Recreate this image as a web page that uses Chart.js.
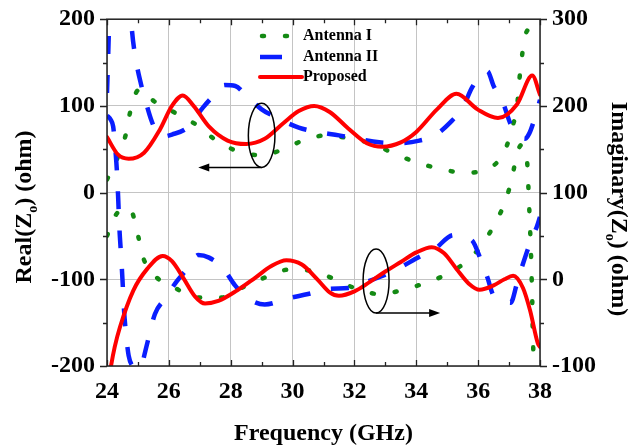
<!DOCTYPE html>
<html lang="en">
<head>
<meta charset="UTF-8">
<title>Real / Imaginary Z0 vs Frequency</title>
<script src="https://cdn.jsdelivr.net/npm/chart.js"></script>
<style>
  html, body { margin: 0; padding: 0; background: #fff; }
  #wrap { width: 632px; height: 447px; }
</style>
</head>
<body>
<div id="wrap"><canvas id="zChart" width="632" height="447"></canvas></div>
<script>
// axis ticks
const xTicks = [24, 26, 28, 30, 32, 34, 36, 38];
const realTicks = [-200, -100, 0, 100, 200];
const imagTicks = [-100, 0, 100, 200, 300];

// Antenna I (green dotted)
const ant1RealFreq = [24, 24.35, 24.6, 24.75, 25.0, 25.15, 25.5, 25.9, 26.3, 26.9, 27.5, 28.2, 29.0, 29.7, 30.4, 31.1, 31.9, 32.6, 33.4, 34.1, 34.8, 35.6, 36.3, 36.87, 37.1, 37.26, 37.33, 37.42, 37.5, 37.68, 38];
const ant1RealVal  = [15, 41, 66, 93, 118, 119, 106, 98, 90, 78, 61, 48, 43, 50, 61, 66, 62, 56, 43, 34, 27, 23, 27, 49, 75, 100, 129, 158, 178, 189, 178];
const ant1ImagFreq = [24, 24.3, 24.6, 24.8, 25.0, 25.17, 25.55, 26.2, 26.9, 27.7, 28.4, 29.1, 29.85, 30.6, 31.3, 32.0, 32.8, 33.6, 34.3, 35.0, 35.6, 36.15, 36.55, 36.9, 37.1, 37.26, 37.4, 37.52, 37.58, 37.62, 37.65, 37.68, 37.71, 37.73, 37.75, 37.76, 37.78, 37.82];
const ant1ImagVal  = [50, 75, 82, 78, 51, 25, 4, -10, -21, -21, -9, 2, 11, 10, 1, -10, -17, -12, -4, 6, 20, 41, 65, 92, 118, 145, 155, 148, 138, 110, 84, 58, 29, 2, -25, -51, -78, -115];

// Antenna II (blue dashed)
const ant2RealFreq = [24, 24.04, 24.08, 24.12, 24.4, 24.68, 24.8, 24.95, 25.1, 25.26, 25.42, 25.6, 25.85, 26.1, 26.6, 27.1, 27.45, 27.8, 28.15, 28.5, 29.0, 29.4, 30.2, 30.8, 31.5, 32.1, 32.8, 33.4, 34.1, 34.6, 35.1, 35.5, 35.8, 36.1, 36.3, 36.5, 36.8, 37.05, 37.3, 37.5, 37.65, 37.84, 38];
const ant2RealVal  = [115, 160, 210, 260, 420, 260, 190, 150, 125, 104, 85, 70, 65, 67, 75, 98, 112, 124, 123, 112, 96, 88, 75, 70, 66, 62, 58, 57, 60, 66, 81, 98, 121, 136, 140, 123, 104, 79, 68, 62, 68, 87, 107];
const ant2ImagFreq = [24, 24.12, 24.2, 24.27, 24.32, 24.36, 24.4, 24.46, 24.5, 24.55, 24.62, 24.7, 24.82, 24.97, 25.13, 25.3, 25.55, 25.88, 26.26, 26.62, 26.95, 27.3, 27.75, 28.14, 28.56, 29.1, 29.85, 30.5, 31.2, 31.8, 32.3, 33.05, 33.5, 34.1, 34.6, 35.2, 35.8, 36.1, 36.3, 36.5, 36.9, 37.05, 37.26, 37.45, 37.68, 37.9, 38];
const ant2ImagVal  = [189, 184, 176, 150, 125, 95, 60, 25, 0, -35, -65, -88, -100, -103, -97, -74, -40, -22, -2, 13, 28, 25, 13, -7, -22, -29, -22, -17, -11, -10, -4, 6, 14, 26, 35, 51, 45, 21, 2, -19, -26, -27, -4, 18, 42, 61, 72];

// Proposed (red solid)
const propRealFreq = [24, 24.35, 24.7, 25.2, 25.7, 26.1, 26.45, 26.8, 27.3, 27.9, 28.5, 29.1, 29.7, 30.2, 30.7, 31.2, 31.8, 32.4, 32.9, 33.5, 34.0, 34.67, 35.3, 35.98, 36.64, 37.26, 37.75, 38];
const propRealVal  = [64, 44, 39, 46, 72, 100, 112, 100, 76, 60, 56, 62, 80, 94, 100, 93, 74, 57, 53, 58, 70, 96, 114, 96, 86, 102, 135, 113];
const propImagFreq = [24, 24.13, 24.25, 24.42, 24.85, 25.3, 25.8, 26.1, 26.46, 26.85, 27.17, 27.6, 28.2, 28.8, 29.3, 29.8, 30.3, 30.8, 31.2, 31.5, 32.0, 32.5, 33.0, 33.5, 34.0, 34.5, 34.9, 35.3, 35.7, 36.05, 36.5, 36.85, 37.13, 37.45, 37.68, 37.93, 38];
const propImagVal  = [-130, -100, -78, -55, -13, 12, 27, 21, 2, -20, -28, -25, -13, 2, 15, 22, 17, 0, -15, -19, -14, -3, 9, 20, 31, 37, 30, 12, -5, -12, -7, 0, 4, -10, -36, -74, -78];

// ellipse + arrow markers (data units)
const markers = [
    { axis: 'y',  x: 29.0, y: 66, rx: 0.43, ry: 37, toX: 26.95 },
    { axis: 'y1', x: 32.7, y: -2, rx: 0.42, ry: 37, toX: 34.77 }
];

const serif = '"Liberation Serif", "Times New Roman", serif';
const GREEN = '#148a14', BLUE = '#0a1eff', RED = '#ff0000';

function pts(fs, vs) { return fs.map((f, i) => ({ x: f, y: vs[i] })); }

const styles = {
    ant1: { borderColor: GREEN, borderWidth: 4.5, borderDash: [2, 21], borderCapStyle: 'round' },
    ant2: { borderColor: BLUE, borderWidth: 4.5, borderDash: [18, 21], borderCapStyle: 'butt' },
    prop: { borderColor: RED, borderWidth: 4, borderDash: [], borderCapStyle: 'round' }
};

const datasets = [
    { label: 'Proposed', data: pts(propRealFreq, propRealVal), yAxisID: 'y', ...styles.prop },
    { label: 'Proposed Im', data: pts(propImagFreq, propImagVal), yAxisID: 'y1', ...styles.prop },
    { label: 'Antenna II', data: pts(ant2RealFreq, ant2RealVal), yAxisID: 'y', ...styles.ant2 },
    { label: 'Antenna II Im', data: pts(ant2ImagFreq, ant2ImagVal), yAxisID: 'y1', ...styles.ant2 },
    { label: 'Antenna I', data: pts(ant1RealFreq, ant1RealVal), yAxisID: 'y', ...styles.ant1 },
    { label: 'Antenna I Im', data: pts(ant1ImagFreq, ant1ImagVal), yAxisID: 'y1', ...styles.ant1 }
].map(d => Object.assign(d, { pointRadius: 0, fill: false, clip: 0, cubicInterpolationMode: 'monotone' }));

function drawRich(ctx, parts, cx, cy, angle, size) {
    ctx.save();
    ctx.translate(cx, cy);
    ctx.rotate(angle);
    const big = `bold ${size}px ${serif}`;
    const small = `bold ${Math.round(size * 0.6)}px ${serif}`;
    let total = 0;
    parts.forEach(p => { ctx.font = p.sub ? small : big; total += ctx.measureText(p.t).width; });
    let x = -total / 2;
    ctx.fillStyle = '#000';
    ctx.textAlign = 'left';
    ctx.textBaseline = 'alphabetic';
    parts.forEach(p => {
        ctx.font = p.sub ? small : big;
        ctx.fillText(p.t, x, p.sub ? size * 0.25 : 0);
        x += ctx.measureText(p.t).width;
    });
    ctx.restore();
}

const overlay = {
    id: 'overlay',
    afterDatasetsDraw(chart) {
        const { ctx, chartArea: a, scales } = chart;
        const sx = scales.x, sy = scales.y, sy1 = scales.y1;
        ctx.save();

        // frame
        ctx.strokeStyle = '#222';
        ctx.lineWidth = 1.5;
        ctx.strokeRect(a.left, a.top, a.right - a.left, a.bottom - a.top);

        // tick marks: x inward (top+bottom), y outward
        ctx.lineWidth = 1.3;
        ctx.beginPath();
        for (let f = xTicks[0]; f <= xTicks[xTicks.length - 1]; f += 1) {
            const px = Math.round(sx.getPixelForValue(f)) + 0.5;
            const len = (f % 2 === 0) ? 6 : 4;
            ctx.moveTo(px, a.bottom); ctx.lineTo(px, a.bottom - len);
            ctx.moveTo(px, a.top); ctx.lineTo(px, a.top + len);
        }
        for (let v = realTicks[0]; v <= realTicks[realTicks.length - 1]; v += 50) {
            const py = Math.round(sy.getPixelForValue(v)) + 0.5;
            const len = (v % 100 === 0) ? 7 : 4;
            ctx.moveTo(a.left, py); ctx.lineTo(a.left - len, py);
        }
        for (let v = imagTicks[0]; v <= imagTicks[imagTicks.length - 1]; v += 50) {
            const py = Math.round(sy1.getPixelForValue(v)) + 0.5;
            const len = (v % 100 === 0) ? 7 : 4;
            ctx.moveTo(a.right, py); ctx.lineTo(a.right + len, py);
        }
        ctx.stroke();

        // ellipses with arrows
        ctx.strokeStyle = '#000';
        ctx.fillStyle = '#000';
        ctx.lineWidth = 1.5;
        markers.forEach(m => {
            const s = scales[m.axis];
            const cx = sx.getPixelForValue(m.x), cy = s.getPixelForValue(m.y);
            const rx = Math.abs(sx.getPixelForValue(m.x + m.rx) - cx);
            const ry = Math.abs(s.getPixelForValue(m.y + m.ry) - cy);
            ctx.beginPath();
            ctx.ellipse(cx, cy, rx, ry, 0, 0, Math.PI * 2);
            ctx.stroke();
            const yb = cy + ry;
            const tx = sx.getPixelForValue(m.toX);
            const dir = Math.sign(tx - cx);
            ctx.beginPath();
            ctx.moveTo(cx, yb);
            ctx.lineTo(tx - dir * 8, yb);
            ctx.stroke();
            ctx.beginPath();
            ctx.moveTo(tx, yb);
            ctx.lineTo(tx - dir * 11, yb - 4);
            ctx.lineTo(tx - dir * 11, yb + 4);
            ctx.closePath();
            ctx.fill();
        });

        // legend
        const rows = [
            { label: 'Antenna I', st: styles.ant1, x0: 262, x1: 288, y: 36 },
            { label: 'Antenna II', st: styles.ant2, x0: 260, x1: 282, y: 57 },
            { label: 'Proposed', st: styles.prop, x0: 260, x1: 302, y: 77 }
        ];
        rows.forEach(r => {
            ctx.save();
            ctx.strokeStyle = r.st.borderColor;
            ctx.lineWidth = r.st.borderWidth;
            ctx.lineCap = r.st.borderCapStyle;
            ctx.setLineDash(r.st === styles.ant2 ? [] : r.st.borderDash);
            ctx.beginPath();
            ctx.moveTo(r.x0, r.y);
            ctx.lineTo(r.x1, r.y);
            ctx.stroke();
            ctx.restore();
            ctx.font = `bold 16px ${serif}`;
            ctx.fillStyle = '#000';
            ctx.textBaseline = 'middle';
            ctx.textAlign = 'left';
            ctx.fillText(r.label, 303, r.y);
        });
        ctx.restore();
    },
    afterDraw(chart) {
        const { ctx, chartArea: a } = chart;
        const midX = (a.left + a.right) / 2;
        drawRich(ctx, [{ t: 'Frequency (GHz)' }], midX, 440, 0, 24);
        drawRich(ctx, [{ t: 'Real(Z' }, { t: 'o', sub: true }, { t: ') (ohm)' }], 31, 207, -Math.PI / 2, 24);
        drawRich(ctx, [{ t: 'Imaginary(Z' }, { t: 'o', sub: true }, { t: ') (ohm)' }], 612, 209, Math.PI / 2, 24);
    }
};

const tickFont = { family: serif, size: 24, weight: 'bold' };
const yTickFont = { family: serif, size: 24, weight: 'bold', lineHeight: 0.6 };

new Chart(document.getElementById('zChart').getContext('2d'), {
    type: 'line',
    data: { datasets: datasets },
    options: {
        responsive: false,
        animation: false,
        events: [],
        elements: { line: { capBezierPoints: false } },
        layout: { padding: { top: 16, left: 0, right: 0, bottom: 0 } },
        scales: {
            x: {
                type: 'linear',
                min: xTicks[0],
                max: xTicks[xTicks.length - 1],
                ticks: { stepSize: 2, font: tickFont, color: '#000', padding: 11, maxRotation: 0 },
                grid: { color: '#c4c4c4', lineWidth: 1, drawTicks: false },
                border: { display: false },
                afterFit: s => { s.height = 81; }
            },
            y: {
                position: 'left',
                min: realTicks[0],
                max: realTicks[realTicks.length - 1],
                ticks: { stepSize: 100, font: yTickFont, color: '#000', padding: 12 },
                grid: { color: '#c4c4c4', lineWidth: 1, drawTicks: false },
                border: { display: false },
                afterFit: s => { s.width = 107; }
            },
            y1: {
                position: 'right',
                min: imagTicks[0],
                max: imagTicks[imagTicks.length - 1],
                ticks: { stepSize: 100, font: yTickFont, color: '#000', padding: 12 },
                grid: { display: false, drawTicks: false },
                border: { display: false },
                afterFit: s => { s.width = 92; }
            }
        },
        plugins: {
            legend: { display: false },
            tooltip: { enabled: false }
        }
    },
    plugins: [overlay]
});
</script>
</body>
</html>
